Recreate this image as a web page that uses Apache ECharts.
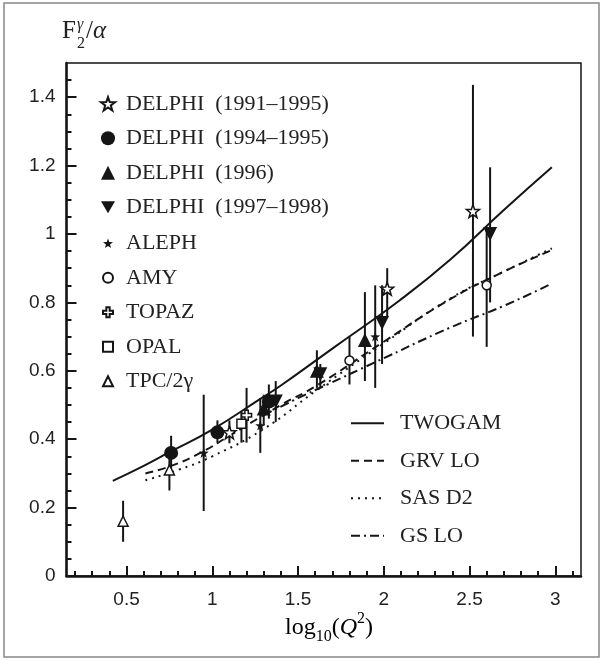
<!DOCTYPE html>
<html>
<head>
<meta charset="utf-8">
<script src="https://cdn.jsdelivr.net/npm/echarts@6/dist/echarts.min.js"></script>
<style>
html,body{margin:0;padding:0;background:#fff;}
#c{width:602px;height:660px;}
</style>
</head>
<body>
<div id="c"></div>
<script>
// ---- data: [x, y, errLow, errHigh] ----
const delphi9195 = [[1.10,0.42,0.388,0.455],[2.02,0.84,0.76,0.90],[2.52,1.067,0.70,1.436]];
const delphi9495 = [[0.76,0.36,0.30,0.41],[1.03,0.42,0.39,0.455],[1.33,0.51,0.46,0.56]];
const delphi96   = [[1.30,0.49,0.44,0.53],[1.61,0.60,0.55,0.66],[1.89,0.69,0.57,0.83]];
const delphi9798 = [[1.37,0.51,0.45,0.57],[1.63,0.59,0.55,0.62],[1.99,0.74,0.62,0.85],[2.62,1.00,0.80,1.195]];
const aleph      = [[0.95,0.36,0.19,0.53],[1.28,0.44,0.36,0.52],[1.95,0.70,0.55,0.85]];
const amy        = [[1.80,0.63,0.56,0.70],[2.60,0.85,0.67,1.02]];
const topaz      = [[1.20,0.47,0.39,0.55]];
const opal       = [[1.17,0.445,0.39,0.48]];
const tpc        = [[0.48,0.16,0.10,0.22],[0.75,0.31,0.25,0.36]];

// ---- theory curves [x, y] ----
const twogam = [[0.42,0.278],[0.6,0.322],[0.75,0.362],[1.0,0.428],[1.28,0.518],[1.4,0.557],[1.7,0.665],[2.09,0.805],[2.39,0.926],[2.7,1.07],[2.98,1.195]];
const grvlo  = [[0.61,0.30],[0.75,0.32],[0.93,0.36],[1.1,0.41],[1.4,0.50],[1.61,0.557],[2.0,0.685],[2.39,0.81],[2.7,0.89],[2.98,0.953]];
const sasd2  = [[0.61,0.28],[0.8,0.31],[1.0,0.35],[1.3,0.43],[1.6,0.54],[2.0,0.68],[2.39,0.812],[2.7,0.89],[2.98,0.958]];
const gslo   = [[1.30,0.47],[1.5,0.52],[1.68,0.562],[1.95,0.625],[2.39,0.727],[2.7,0.79],[2.98,0.855]];

// ---- axis ticks ----
const xMajor = [0.5,1,1.5,2,2.5,3];
const xMinor = [0.2,0.3,0.4,0.6,0.7,0.8,0.9,1.1,1.2,1.3,1.4,1.6,1.7,1.8,1.9,2.1,2.2,2.3,2.4,2.6,2.7,2.8,2.9,3.1];
const yMajor = [0,0.2,0.4,0.6,0.8,1,1.2,1.4];
const yMinor = [0.05,0.1,0.15,0.25,0.3,0.35,0.45,0.5,0.55,0.65,0.7,0.75,0.85,0.9,0.95,1.05,1.1,1.15,1.25,1.3,1.35,1.45];

const STAR = 'path://M0,-10 L2.35,-3.24 L9.51,-3.09 L3.8,1.24 L5.88,8.09 L0,4 L-5.88,8.09 L-3.8,1.24 L-9.51,-3.09 L-2.35,-3.24 Z';
const PLUS = 'path://M-3,-9 L3,-9 L3,-3 L9,-3 L9,3 L3,3 L3,9 L-3,9 L-3,3 L-9,3 L-9,-3 L-3,-3 Z';
const TRI_DOWN = 'path://M-7,-6 L7,-6 L0,6 Z';

const INK = '#151515';
const sets = [
  {name:'DELPHI  (1991–1995)', data:delphi9195, symbol:STAR, size:13, fill:'#fff', bw:1.5},
  {name:'DELPHI  (1994–1995)', data:delphi9495, symbol:'circle', size:14, fill:INK, bw:0},
  {name:'DELPHI  (1996)', data:delphi96, symbol:'triangle', size:14, fill:INK, bw:0},
  {name:'DELPHI  (1997–1998)', data:delphi9798, symbol:TRI_DOWN, size:14, fill:INK, bw:0},
  {name:'ALEPH', data:aleph, symbol:STAR, size:10, fill:INK, bw:0},
  {name:'AMY', data:amy, symbol:'circle', size:9, fill:'#fff', bw:1.5},
  {name:'TOPAZ', data:topaz, symbol:PLUS, size:10, fill:'#fff', bw:1.5},
  {name:'OPAL', data:opal, symbol:'rect', size:9, fill:'#fff', bw:1.5},
  {name:'TPC/2γ', data:tpc, symbol:'triangle', size:10, fill:'#fff', bw:1.5}
];

const series = [];
sets.forEach(function(s){
  series.push({
    name: s.name + ' err', type:'custom', z:3, silent:true,
    data: s.data.map(function(d){return [d[0], d[2], d[3]];}),
    renderItem: function(params, api){
      const p1 = api.coord([api.value(0), api.value(1)]);
      const p2 = api.coord([api.value(0), api.value(2)]);
      return {type:'line', shape:{x1:p1[0],y1:p1[1],x2:p2[0],y2:p2[1]}, style:{stroke:INK, lineWidth:2}};
    }
  });
  series.push({
    name: s.name, type:'scatter', z:5,
    symbol: s.symbol, symbolSize: s.size,
    itemStyle:{color:s.fill, borderColor:INK, borderWidth:s.bw, opacity:1},
    data: s.data.map(function(d){return [d[0], d[1]];})
  });
});

const lines = [
  {name:'TWOGAM', data:twogam, type:'solid'},
  {name:'GRV LO', data:grvlo, type:[8,5]},
  {name:'SAS D2', data:sasd2, type:[2,5]},
  {name:'GS LO', data:gslo, type:[9,4,2,4]}
];
lines.forEach(function(l){
  series.push({
    name:l.name, type:'line', smooth:true, showSymbol:false, symbol:'circle', z:4, silent:true,
    lineStyle:{color:INK, width:2, type:l.type},
    itemStyle:{color:INK},
    data:l.data
  });
});

const legText = {fontFamily:'Liberation Serif', fontSize:22, color:'#222'};
const chart = echarts.init(document.getElementById('c'), null, {renderer:'canvas'});
chart.setOption({
  animation:false,
  backgroundColor:'#fff',
  grid:{left:66.5, right:21, top:63, bottom:84, show:true, borderColor:INK, borderWidth:1.5, backgroundColor:'transparent'},
  xAxis:[
    {type:'value', min:0.15, max:3.15, position:'bottom',
     axisLine:{show:true, onZero:false, lineStyle:{color:INK, width:2.5}},
     axisTick:{show:true, inside:true, length:10, customValues:xMajor, lineStyle:{color:INK, width:2}},
     axisLabel:{show:true, customValues:xMajor, margin:14, fontFamily:'Liberation Sans', fontSize:19, color:'#222'},
     splitLine:{show:false}},
    {type:'value', min:0.15, max:3.15, position:'bottom',
     axisLine:{show:false, onZero:false},
     axisTick:{show:true, inside:true, length:5, customValues:xMinor, lineStyle:{color:INK, width:2}},
     axisLabel:{show:false}, splitLine:{show:false}}
  ],
  yAxis:[
    {type:'value', min:0, max:1.5, position:'left',
     axisLine:{show:true, onZero:false, lineStyle:{color:INK, width:2.5}},
     axisTick:{show:true, inside:true, length:10, customValues:yMajor, lineStyle:{color:INK, width:2}},
     axisLabel:{show:true, customValues:yMajor, margin:11, fontFamily:'Liberation Sans', fontSize:19, color:'#222'},
     splitLine:{show:false}},
    {type:'value', min:0, max:1.5, position:'left',
     axisLine:{show:false, onZero:false},
     axisTick:{show:true, inside:true, length:5, customValues:yMinor, lineStyle:{color:INK, width:2}},
     axisLabel:{show:false}, splitLine:{show:false}}
  ],
  legend:[
    {orient:'vertical', left:100, top:92.8, padding:0, itemWidth:14, itemHeight:14, itemGap:12.5, selectedMode:false,
     data:sets.slice(0,4).map(function(s){return {name:s.name, icon:s.symbol};}),
     textStyle:Object.assign({padding:[0,0,0,6]}, legText)},
    {orient:'vertical', left:102, top:232.3, padding:0, itemWidth:10, itemHeight:10, itemGap:12.5, selectedMode:false,
     data:sets.slice(4).map(function(s){return s.name;}),
     textStyle:Object.assign({padding:[0,0,0,8]}, legText)},
    {orient:'vertical', left:350, top:412.3, padding:0, itemWidth:33, itemHeight:14, itemGap:15.5, selectedMode:false,
     data:lines.map(function(l){return {name:l.name, itemStyle:{color:'rgba(0,0,0,0)', borderColor:'rgba(0,0,0,0)', borderWidth:0}};}),
     textStyle:Object.assign({padding:[0,0,0,11]}, legText)}
  ],
  graphic:[
    {type:'rect', silent:true, shape:{x:4, y:3, width:595, height:654}, style:{fill:'none', stroke:'#888', lineWidth:1.5}},
    {type:'text', silent:true, style:{x:62, y:44, text:'F', font:'normal 25px "Liberation Serif"', fill:'#222', verticalAlign:'bottom'}},
    {type:'text', silent:true, style:{x:77, y:33, text:'γ', font:'italic 16px "Liberation Serif"', fill:'#222', verticalAlign:'bottom'}},
    {type:'text', silent:true, style:{x:77, y:52, text:'2', font:'normal 16px "Liberation Serif"', fill:'#222', verticalAlign:'bottom'}},
    {type:'text', silent:true, style:{x:86, y:44, text:'/', font:'normal 25px "Liberation Serif"', fill:'#222', verticalAlign:'bottom'}},
    {type:'text', silent:true, style:{x:93, y:44, text:'α', font:'italic 25px "Liberation Serif"', fill:'#222', verticalAlign:'bottom'}},
    {type:'text', silent:true, style:{x:329, y:628, text:'{n|log}{s|10}{n|(}{i|Q}{p|2}{n|)}', align:'center', verticalAlign:'middle',
      rich:{
        n:{fontFamily:'Liberation Serif', fontSize:24, color:'#222', lineHeight:34, verticalAlign:'middle'},
        i:{fontFamily:'Liberation Serif', fontStyle:'italic', fontSize:24, color:'#222', lineHeight:34, verticalAlign:'middle'},
        s:{fontFamily:'Liberation Serif', fontSize:16, color:'#222', lineHeight:14, verticalAlign:'bottom'},
        p:{fontFamily:'Liberation Serif', fontSize:16, color:'#222', lineHeight:14, verticalAlign:'top'}
      }}}
  ],
  series:series
});
</script>
</body>
</html>
